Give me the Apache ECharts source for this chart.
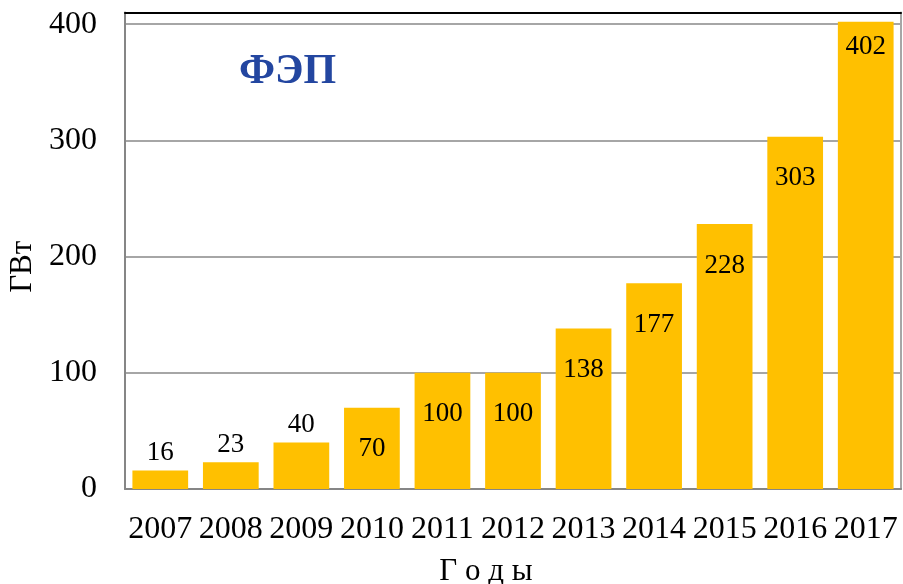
<!DOCTYPE html>
<html>
<head>
<meta charset="utf-8">
<script src="https://cdn.jsdelivr.net/npm/echarts@6/dist/echarts.min.js"></script>
<style>
  html, body { margin: 0; padding: 0; background: #ffffff; }
  #chart { width: 903px; height: 584px; }
</style>
</head>
<body>
<div id="chart"></div>
<script>
// Installed PV capacity by year
const years = ['2007', '2008', '2009', '2010', '2011', '2012', '2013', '2014', '2015', '2016', '2017'];
const capacityGW = [16, 23, 40, 70, 100, 100, 138, 177, 228, 303, 402];
const yTicks = [0, 100, 200, 300, 400];

const SERIF = '"Liberation Serif", "DejaVu Serif", serif';
const maxVal = Math.max(...capacityGW);

// Short bars carry the value above, taller ones inside near the top
const barData = capacityGW.map(function (v) {
  let label;
  if (v < 60) {
    label = { position: 'top', distance: 4 };
  } else if (v === maxVal) {
    label = { position: 'insideTop', distance: 12 };
  } else {
    label = { position: 'insideTop', distance: 28 };
  }
  return { value: v, label: label };
});

const chart = echarts.init(document.getElementById('chart'), null, { renderer: 'canvas' });

chart.setOption({
  animation: false,
  backgroundColor: '#ffffff',
  title: {
    text: 'ФЭП',
    left: 234,
    top: 46,
    textStyle: { fontFamily: SERIF, fontSize: 42, fontWeight: 'bold', color: '#2346A0' }
  },
  grid: { left: 125, right: 2, top: 12.5, bottom: 95, containLabel: false, outerBoundsMode: 'none' },
  xAxis: [
    {
      type: 'category',
      data: years,
      position: 'bottom',
      name: 'Г о д ы',
      nameLocation: 'middle',
      nameGap: 67,
      nameTextStyle: { fontFamily: SERIF, fontSize: 31, color: '#000000', padding: [0, 54, 0, 0] },
      axisLine: { show: true, onZero: false, lineStyle: { color: '#868686', width: 2 } },
      axisTick: { show: false },
      axisLabel: { fontFamily: SERIF, fontSize: 32, color: '#000000', margin: 25, interval: 0 },
      splitLine: { show: false }
    },
    {
      // frame line along the top edge of the plot
      type: 'category',
      data: years,
      position: 'top',
      z: 5,
      axisLine: { show: true, onZero: false, lineStyle: { color: '#000000', width: 2 } },
      axisTick: { show: false },
      axisLabel: { show: false },
      splitLine: { show: false }
    }
  ],
  yAxis: [
    {
      type: 'value',
      min: 0,
      max: 410,
      interval: 100,
      name: 'ГВт',
      nameLocation: 'middle',
      nameGap: 85,
      nameRotate: 90,
      nameTextStyle: { fontFamily: SERIF, fontSize: 31, color: '#000000', padding: [0, 32, 0, 0] },
      axisLine: { show: true, onZero: false, lineStyle: { color: '#868686', width: 2 } },
      axisTick: { show: false },
      axisLabel: {
        fontFamily: SERIF,
        fontSize: 32,
        color: '#000000',
        margin: 28,
        formatter: function (v) { return yTicks.indexOf(v) >= 0 ? String(v) : ''; }
      },
      splitLine: { show: true, lineStyle: { color: '#A6A6A6', width: 2 } }
    },
    {
      // frame line along the right edge of the plot
      type: 'value',
      min: 0,
      max: 410,
      position: 'right',
      axisLine: { show: true, onZero: false, lineStyle: { color: '#A6A6A6', width: 2 } },
      axisTick: { show: false },
      axisLabel: { show: false },
      splitLine: { show: false }
    }
  ],
  series: [
    {
      type: 'bar',
      xAxisIndex: 0,
      yAxisIndex: 0,
      data: barData,
      barCategoryGap: '21%',
      itemStyle: { color: '#FFC000' },
      label: {
        show: true,
        fontFamily: SERIF,
        fontSize: 27,
        color: '#000000'
      }
    }
  ]
});
</script>
</body>
</html>
